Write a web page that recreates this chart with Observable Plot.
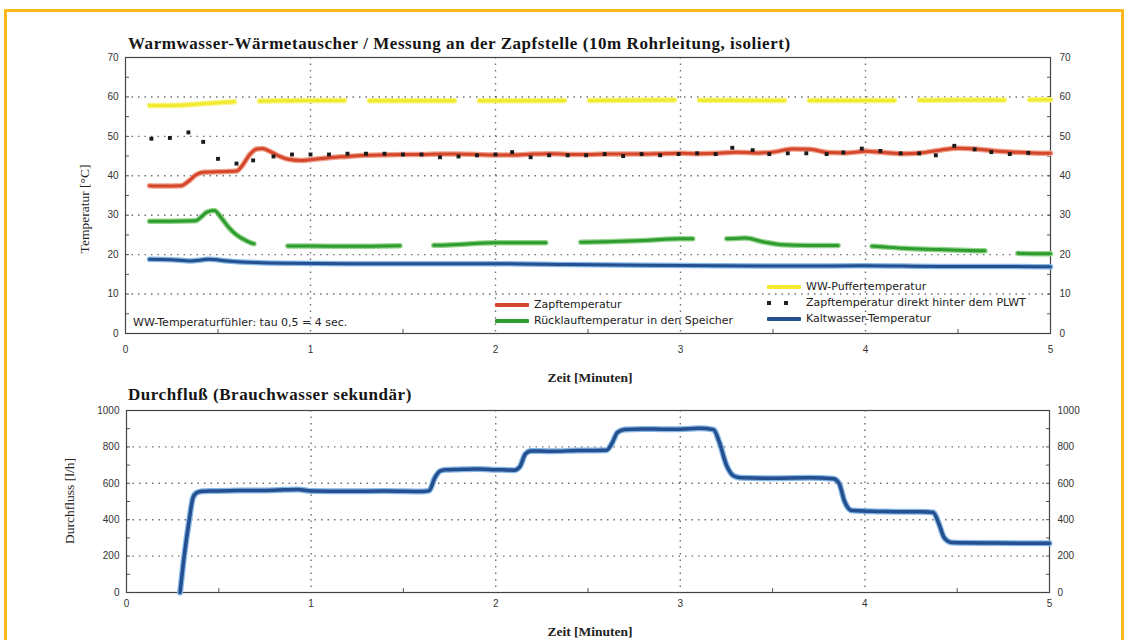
<!DOCTYPE html>
<html>
<head>
<meta charset="utf-8">
<script src="https://cdn.jsdelivr.net/npm/d3@7"></script>
<script src="https://cdn.jsdelivr.net/npm/@observablehq/plot@0.6"></script>
<style>
  body { margin: 0; background: #fff; }
  #wrap { position: relative; width: 1127px; height: 640px; overflow: hidden; background: #fff; }
  #border { position: absolute; left: 4px; top: 9px; width: 1120px; height: 660px; border: 3px solid #fbb81c; box-sizing: border-box; }
  .abs { position: absolute; white-space: nowrap; }
  .title { font-family: "Liberation Serif", "DejaVu Serif", serif; font-weight: bold; font-size: 17px; letter-spacing: 0.55px; color: #151515; }
  .axlab { font-family: "Liberation Serif", serif; font-weight: bold; font-size: 13.5px; color: #222; }
  .leg { font-family: "DejaVu Sans", sans-serif; font-size: 11px; color: #222; }
  .sw { position: absolute; height: 4px; border-radius: 1px; }
  .sq { position: absolute; width: 4px; height: 4px; background: #222; }
  .plot { position: absolute; left: 0; }
</style>
</head>
<body>
<div id="wrap">
  <div id="border"></div>
  <div class="abs title" style="left:128px; top:34px;">Warmwasser-Wärmetauscher / Messung an der Zapfstelle (10m Rohrleitung, isoliert)</div>
  <div class="abs title" style="left:128px; top:385px;">Durchfluß (Brauchwasser sekundär)</div>
</div>
<script>
// ---------- Data ----------
const timeTicks = [0, 1, 2, 3, 4, 5];
const timeGrid = [1, 2, 3, 4];
const timeMinor = [0.5, 1.5, 2.5, 3.5, 4.5];
const tempTicks = [0, 10, 20, 30, 40, 50, 60, 70];
const tempGrid = [10, 20, 30, 40, 50, 60];
const tempMinor = [5, 10, 15, 20, 25, 30, 35, 40, 45, 50, 55, 60, 65];
const flowTicks = [0, 200, 400, 600, 800, 1000];
const flowGrid = [200, 400, 600, 800];
const flowMinor = [100, 200, 300, 400, 500, 600, 700, 800, 900];

// Zapftemperatur (red)
const zapfX = [0.13, 0.2, 0.3, 0.34, 0.38, 0.42, 0.5, 0.6, 0.63, 0.67, 0.71, 0.74, 0.78, 0.83, 0.88, 0.95, 1.0, 1.1, 1.2, 1.3, 1.4, 1.5, 1.6, 1.7, 1.8, 1.9, 2.0, 2.1, 2.2, 2.3, 2.4, 2.5, 2.6, 2.7, 2.8, 2.9, 3.0, 3.1, 3.2, 3.3, 3.4, 3.5, 3.6, 3.7, 3.8, 3.9, 4.0, 4.1, 4.2, 4.3, 4.4, 4.5, 4.6, 4.7, 4.8, 4.9, 5.0];
const zapfT = [37.5, 37.4, 37.5, 38.6, 40.2, 40.9, 41.0, 41.2, 42.5, 45.3, 46.8, 46.9, 46.2, 45.0, 44.2, 43.9, 44.1, 44.6, 44.9, 45.2, 45.3, 45.4, 45.4, 45.5, 45.5, 45.4, 45.3, 45.3, 45.5, 45.6, 45.4, 45.4, 45.5, 45.5, 45.5, 45.6, 45.7, 45.6, 45.7, 46.0, 45.8, 46.0, 46.8, 46.7, 45.9, 45.8, 46.2, 45.9, 45.6, 45.8, 46.5, 47.0, 46.8, 46.3, 46.0, 45.8, 45.7];

// Zapftemperatur direkt hinter dem PLWT (black dots)
const plwtX = [0.14, 0.24, 0.34, 0.42, 0.50, 0.60, 0.69, 0.80, 0.90, 1.0, 1.1, 1.2, 1.3, 1.4, 1.5, 1.6, 1.7, 1.8, 1.9, 2.0, 2.09, 2.19, 2.29, 2.39, 2.49, 2.59, 2.69, 2.79, 2.89, 2.99, 3.09, 3.19, 3.28, 3.39, 3.48, 3.58, 3.68, 3.79, 3.88, 3.98, 4.08, 4.19, 4.29, 4.38, 4.48, 4.59, 4.68, 4.78, 4.88];
const plwtT = [49.4, 49.6, 51.0, 48.6, 44.3, 43.1, 43.9, 44.9, 45.4, 45.4, 45.4, 45.6, 45.6, 45.6, 45.4, 45.4, 44.7, 44.9, 45.2, 45.4, 46.0, 44.7, 45.2, 45.2, 45.2, 45.5, 45.0, 45.5, 45.2, 45.5, 45.7, 45.5, 47.1, 46.5, 45.5, 45.7, 45.7, 45.5, 45.9, 46.9, 46.3, 45.7, 45.7, 45.2, 47.6, 46.7, 46.0, 45.5, 45.8];

// WW-Puffertemperatur (yellow)
const pufferX = [0.13, 0.3, 0.45, 0.6, 0.8, 1.0, 1.5, 2.0, 2.5, 3.0, 3.5, 4.0, 4.5, 5.0];
const pufferT = [57.8, 57.9, 58.4, 58.8, 59.0, 59.1, 59.0, 59.0, 59.1, 59.2, 59.1, 59.1, 59.2, 59.3];

// Rücklauftemperatur in den Speicher (green)
const ruecklaufX = [0.13, 0.25, 0.38, 0.41, 0.44, 0.48, 0.52, 0.56, 0.6, 0.65, 0.69, 0.8, 0.9, 1.0, 1.2, 1.4, 1.6, 1.7, 1.8, 2.0, 2.2, 2.4, 2.6, 2.8, 3.0, 3.2, 3.3, 3.35, 3.45, 3.55, 3.7, 3.9, 4.05, 4.2, 4.4, 4.6, 4.7, 4.85, 5.0];
const ruecklaufT = [28.5, 28.5, 28.6, 29.6, 30.8, 31.2, 29.2, 26.8, 25.0, 23.6, 22.8, 22.3, 22.2, 22.2, 22.1, 22.2, 22.3, 22.4, 22.6, 23.0, 23.0, 23.1, 23.3, 23.6, 24.0, 24.0, 24.1, 24.2, 23.2, 22.5, 22.3, 22.3, 22.1, 21.6, 21.3, 21.0, 20.9, 20.3, 20.2];

// Kaltwasser-Temperatur (blue)
const kaltX = [0.13, 0.25, 0.35, 0.45, 0.55, 0.7, 0.9, 1.2, 1.6, 2.0, 2.4, 2.8, 3.2, 3.6, 4.0, 4.4, 4.8, 5.0];
const kaltT = [18.8, 18.7, 18.4, 18.8, 18.4, 18.0, 17.8, 17.7, 17.7, 17.7, 17.5, 17.3, 17.2, 17.1, 17.2, 17.0, 17.0, 16.9];

// Durchfluss (blue, bottom)
const flowX = [0.29, 0.31, 0.34, 0.36, 0.38, 0.41, 0.45, 0.6, 0.8, 0.93, 1.0, 1.2, 1.4, 1.6, 1.64, 1.67, 1.70, 1.73, 1.8, 1.9, 2.0, 2.1, 2.13, 2.16, 2.19, 2.3, 2.45, 2.6, 2.63, 2.66, 2.70, 2.8, 3.0, 3.1, 3.18, 3.21, 3.25, 3.29, 3.33, 3.5, 3.7, 3.83, 3.86, 3.89, 3.93, 4.1, 4.3, 4.37, 4.40, 4.43, 4.47, 4.7, 5.0];
const flowV = [0, 180, 400, 520, 548, 556, 558, 560, 562, 566, 558, 556, 558, 555, 560, 630, 668, 674, 676, 678, 675, 672, 690, 760, 778, 776, 780, 782, 820, 880, 895, 898, 897, 902, 895, 830, 700, 640, 630, 628, 630, 625, 600, 500, 450, 445, 443, 440, 380, 300, 275, 272, 270];

// ---------- Helpers ----------
const zip = (xs, ys) => xs.map((x, i) => ({x, y: ys[i]}));
const zapf = zip(zapfX, zapfT), plwt = zip(plwtX, plwtT), puffer = zip(pufferX, pufferT);
const rueck = zip(ruecklaufX, ruecklaufT), kalt = zip(kaltX, kaltT), flow = zip(flowX, flowV);

const C = {
  red: "#d4472c", redHalo: "#f0a48e",
  green: "#2f9c2f", greenHalo: "#93d38c",
  yellow: "#f1ea2e", yellowHalo: "#f8f47e",
  blue: "#24508f", blueHalo: "#86b6e6"
};
const gridStyle = {stroke: "#222", strokeOpacity: 0.65, strokeWidth: 1.4, strokeDasharray: "1.5,5"};
const style = {fontFamily: "'Liberation Sans', Arial, sans-serif", fontSize: "10px", color: "#333", background: "transparent", overflow: "visible"};
const fmt = d => String(d);
const blank = () => "";

function dual(data, color, halo, extra = {}) {
  return [
    Plot.line(data, {x: "x", y: "y", stroke: halo, strokeWidth: 5.5, curve: "monotone-x", ...extra}),
    Plot.line(data, {x: "x", y: "y", stroke: color, strokeWidth: 3, curve: "monotone-x", ...extra})
  ];
}

// ---------- Top chart ----------
const topPlot = Plot.plot({
  width: 1127, height: 336,
  marginLeft: 125, marginRight: 77, marginTop: 5, marginBottom: 55,
  x: {domain: [0, 5]},
  y: {domain: [0, 70]},
  style,
  marks: [
    Plot.gridY({ticks: tempGrid, ...gridStyle}),
    Plot.gridX({ticks: timeGrid, ...gridStyle}),
    Plot.axisY({anchor: "left", ticks: tempTicks, tickFormat: fmt, tickSize: 0, tickPadding: 7, label: null, fill: "#333"}),
    Plot.axisY({anchor: "right", ticks: tempTicks, tickFormat: fmt, tickSize: 0, tickPadding: 9, label: null, fill: "#333"}),
    Plot.axisY({anchor: "left", ticks: tempMinor, tickSize: -4, tickFormat: blank, label: null, stroke: "#555"}),
    Plot.axisY({anchor: "right", ticks: tempMinor, tickSize: -4, tickFormat: blank, label: null, stroke: "#555"}),
    Plot.axisX({anchor: "bottom", ticks: timeTicks, tickFormat: fmt, tickSize: 0, tickPadding: 12, label: null, fill: "#333"}),
    Plot.axisX({anchor: "bottom", ticks: timeMinor, tickSize: -4, tickFormat: blank, label: null, stroke: "#555"}),
    Plot.frame({stroke: "#444", strokeWidth: 1.2}),
    ...dual(puffer, C.yellow, C.yellowHalo, {strokeDasharray: "85,25"}),
    ...dual(rueck, C.green, C.greenHalo, {strokeDasharray: "121,34,112,34,112,35,112,34,112,34,113,33,200"}),
    ...dual(kalt, C.blue, C.blueHalo),
    ...dual(zapf, C.red, C.redHalo),
    Plot.dot(plwt, {x: "x", y: "y", symbol: "square", r: 2.2, fill: "#1a1a1a"})
  ]
});
topPlot.classList.add("plot");
topPlot.style.top = "52px";

// ---------- Bottom chart ----------
const botPlot = Plot.plot({
  width: 1127, height: 240,
  marginLeft: 126, marginRight: 78, marginTop: 10, marginBottom: 48,
  x: {domain: [0, 5]},
  y: {domain: [0, 1000]},
  style,
  marks: [
    Plot.gridY({ticks: flowGrid, ...gridStyle}),
    Plot.gridX({ticks: timeGrid, ...gridStyle}),
    Plot.axisY({anchor: "left", ticks: flowTicks, tickFormat: fmt, tickSize: 0, tickPadding: 7, label: null, fill: "#333"}),
    Plot.axisY({anchor: "right", ticks: flowTicks, tickFormat: fmt, tickSize: 0, tickPadding: 8, label: null, fill: "#333"}),
    Plot.axisY({anchor: "left", ticks: flowMinor, tickSize: -4, tickFormat: blank, label: null, stroke: "#555"}),
    Plot.axisY({anchor: "right", ticks: flowMinor, tickSize: -4, tickFormat: blank, label: null, stroke: "#555"}),
    Plot.axisX({anchor: "bottom", ticks: timeTicks, tickFormat: fmt, tickSize: 0, tickPadding: 7, label: null, fill: "#333"}),
    Plot.axisX({anchor: "bottom", ticks: timeMinor, tickSize: -4, tickFormat: blank, label: null, stroke: "#555"}),
    Plot.frame({stroke: "#444", strokeWidth: 1.2}),
    Plot.line(flow, {x: "x", y: "y", stroke: C.blueHalo, strokeWidth: 6, curve: "monotone-x"}),
    Plot.line(flow, {x: "x", y: "y", stroke: C.blue, strokeWidth: 3.5, curve: "monotone-x"})
  ]
});
botPlot.classList.add("plot");
botPlot.style.top = "400px";

const wrap = document.getElementById("wrap");
wrap.appendChild(topPlot);
wrap.appendChild(botPlot);

// ---------- Overlay texts: axis labels, legend, note ----------
function addText(cls, text, css) {
  const d = document.createElement("div");
  d.className = "abs " + cls;
  d.textContent = text;
  Object.assign(d.style, css);
  wrap.appendChild(d);
  return d;
}
function addBox(cls, css) {
  const d = document.createElement("div");
  d.className = cls;
  Object.assign(d.style, css);
  wrap.appendChild(d);
  return d;
}
// axis titles
addText("axlab", "Zeit [Minuten]", {left: "590px", top: "378px", transform: "translate(-50%,-50%)"});
addText("axlab", "Zeit [Minuten]", {left: "590px", top: "632px", transform: "translate(-50%,-50%)"});
addText("axlab", "Temperatur [°C]", {left: "85px", top: "209px", transform: "translate(-50%,-50%) rotate(-90deg)", fontWeight: "normal"});
addText("axlab", "Durchfluss [l/h]", {left: "70px", top: "501px", transform: "translate(-50%,-50%) rotate(-90deg)", fontWeight: "normal"});

// note
addText("leg", "WW-Temperaturfühler: tau 0,5 = 4 sec.", {left: "133px", top: "316px"});

// legend
const legendLines = [
  {label: "WW-Puffertemperatur", color: C.yellow, x: 767, y: 287},
  {label: "Kaltwasser-Temperatur", color: C.blue, x: 767, y: 319},
  {label: "Zapftemperatur", color: C.red, x: 495, y: 305},
  {label: "Rücklauftemperatur in den Speicher", color: C.green, x: 495, y: 321}
];
for (const l of legendLines) {
  addBox("sw", {left: l.x + "px", top: (l.y - 2) + "px", width: "34px", background: l.color});
  addText("leg", l.label, {left: (l.x + 39) + "px", top: (l.y - 7) + "px"});
}
addBox("sq", {left: "767px", top: "301px"});
addBox("sq", {left: "784px", top: "301px"});
addText("leg", "Zapftemperatur direkt hinter dem PLWT", {left: "806px", top: "296px"});
</script>
</body>
</html>
